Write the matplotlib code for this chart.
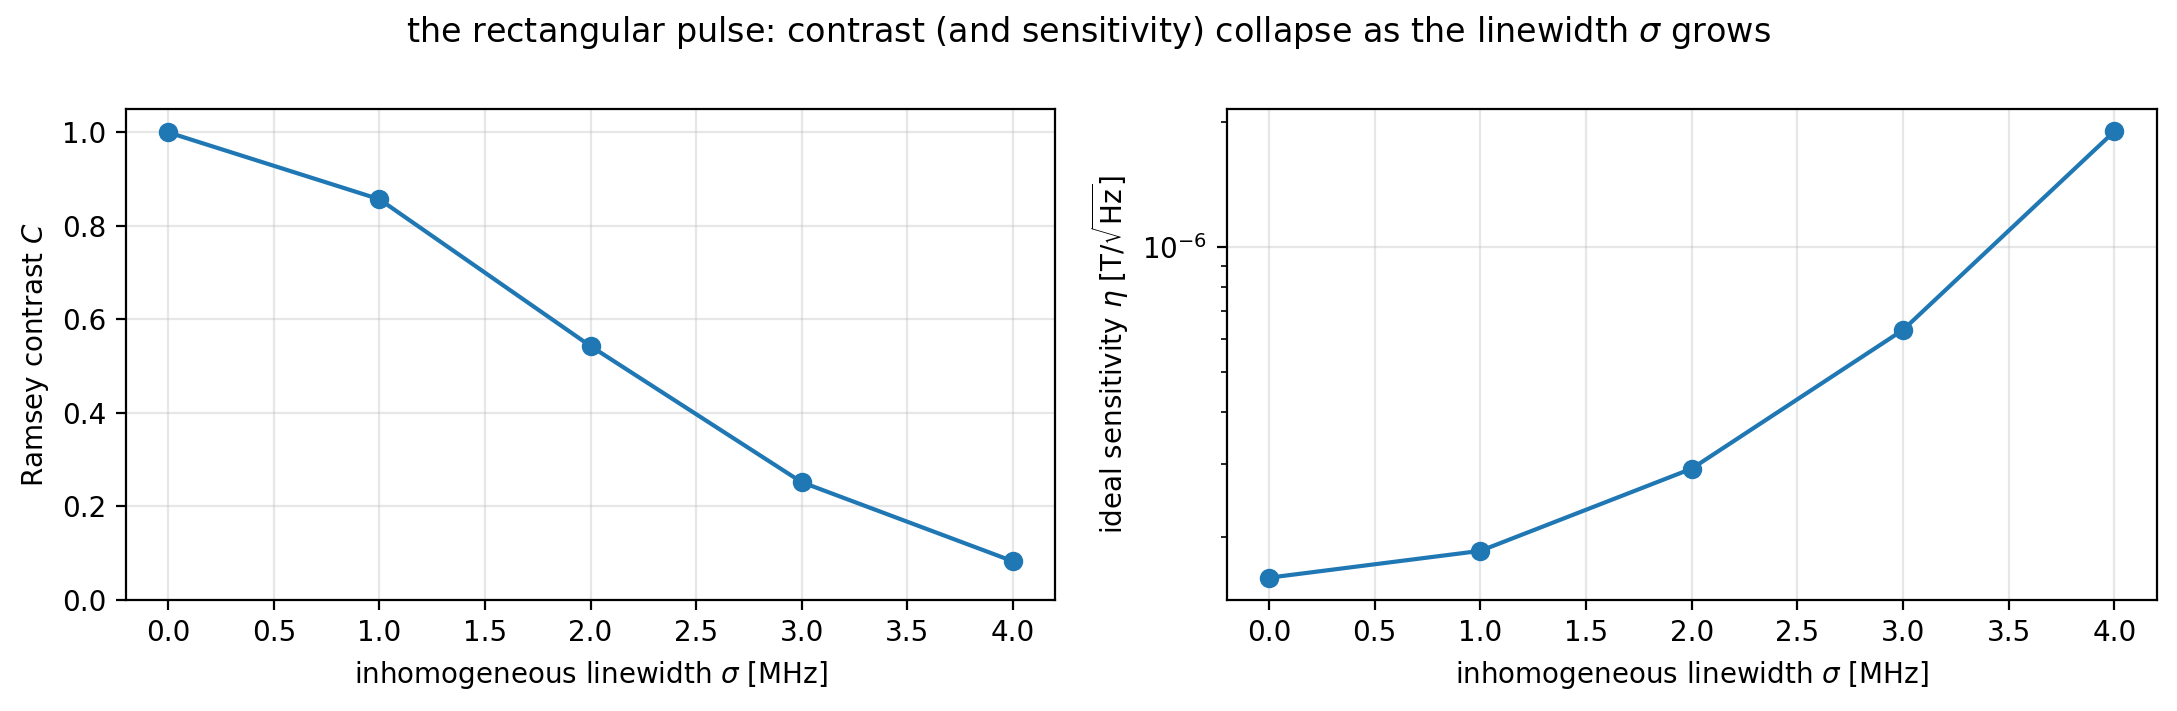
import matplotlib
matplotlib.use("Agg")
import matplotlib.pyplot as plt

# values
sigma = [0.0, 1.0, 2.0, 3.0, 4.0]            # MHz
contrast = [1.0, 0.857, 0.543, 0.252, 0.083]
eta = [1.594e-7, 1.85e-7, 2.92e-7, 6.31e-7, 1.90e-6]   # T/sqrt(Hz)

fig = plt.figure(figsize=(10.885, 3.555), dpi=200)
ax1 = fig.add_axes([0.0579, 0.1561, 0.4267, 0.6906])
ax2 = fig.add_axes([0.5635, 0.1561, 0.4272, 0.6906])

ax1.plot(sigma, contrast, 'o-')
ax1.set_ylim(0, 1.05)
ax1.set_xlabel(r'inhomogeneous linewidth $\sigma$ [MHz]')
ax1.set_ylabel(r'Ramsey contrast $C$')
ax1.grid(alpha=0.3)

ax2.plot(sigma, eta, 'o-')
ax2.set_yscale('log')
ax2.set_xlabel(r'inhomogeneous linewidth $\sigma$ [MHz]')
ax2.set_ylabel(r'ideal sensitivity $\eta$ [T/$\sqrt{\mathrm{Hz}}$]')
ax2.grid(alpha=0.3)

fig.suptitle(r'the rectangular pulse: contrast (and sensitivity) collapse as the linewidth $\sigma$ grows')
fig.savefig('out.png', dpi=200)
